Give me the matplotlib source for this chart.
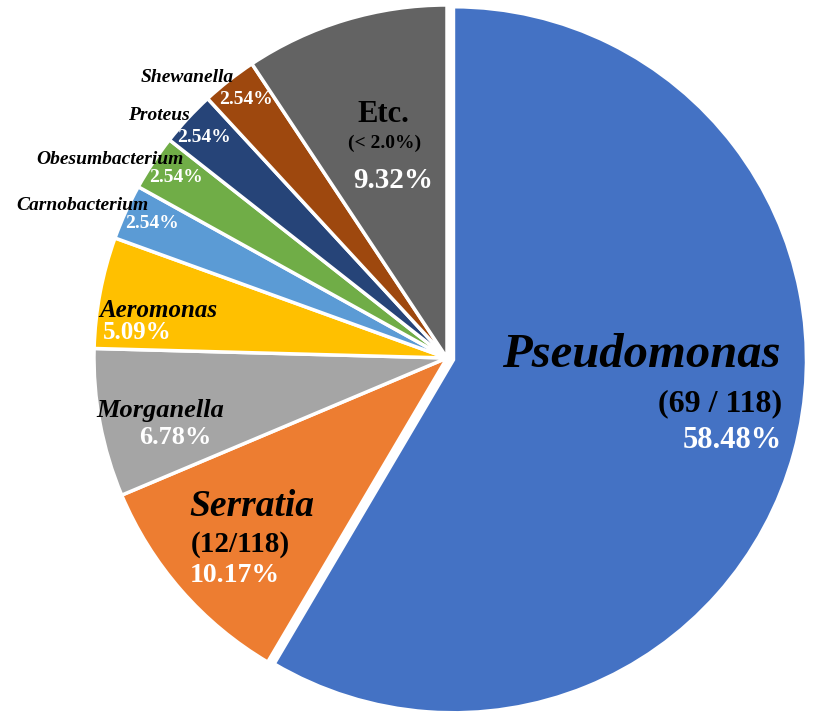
import matplotlib.pyplot as plt

# slice data, clockwise from 12 o'clock
genera = ['Pseudomonas', 'Serratia', 'Morganella', 'Aeromonas', 'Carnobacterium',
          'Obesumbacterium', 'Proteus', 'Shewanella', 'Etc.']
percents = [58.48, 10.17, 6.78, 5.09, 2.54, 2.54, 2.54, 2.54, 9.32]
counts = ['(69 / 118)', '(12/118)', '', '', '', '', '', '', '(< 2.0%)']
colors = ['#4472C4', '#ED7D31', '#A5A5A5', '#FFC000', '#5B9BD5',
          '#70AD47', '#264478', '#9E480E', '#636363']

W, H = 827, 728
cx, cy, R = 447, 358, 353   # pie centre / radius in pixels

fig = plt.figure(figsize=(W / 100, H / 100), dpi=100)
ax = fig.add_axes([0, 0, 1, 1])

explode = [0.019] + [0] * (len(percents) - 1)
ax.pie(percents, colors=colors, startangle=90, counterclock=False,
       explode=explode, radius=1,
       wedgeprops=dict(edgecolor='white', linewidth=2.5))

ax.set_xlim(-cx / R, (W - cx) / R)
ax.set_ylim(-(H - cy) / R, cy / R)
ax.set_aspect('equal')
ax.axis('off')

serif = 'Liberation Serif'


def put(x, y, s, size, color='black', italic=False, ha='center'):
    fig.text(x / W, 1 - y / H, s, fontsize=size, color=color, ha=ha, va='center',
             family=serif, weight='bold', style='italic' if italic else 'normal')


# label layout (pixels): name, count, percent
put(781, 355, genera[0], 35, italic=True, ha='right')
put(782, 404, counts[0], 23, ha='right')
put(782, 441, f'{percents[0]:.2f}%', 22, color='white', ha='right')

put(189, 507, genera[1], 27, italic=True, ha='left')
put(191, 545, counts[1], 21, ha='left')
put(190, 575, f'{percents[1]:.2f}%', 20, color='white', ha='left')

put(160, 410, genera[2], 19, italic=True)
put(175, 438, f'{percents[2]:.2f}%', 19, color='white')

put(158, 310, genera[3], 18, italic=True)
put(137, 333, f'{percents[3]:.2f}%', 18, color='white')

put(82, 206, genera[4], 14, italic=True)
put(152, 223, f'{percents[4]:.2f}%', 14, color='white')

put(110, 159, genera[5], 14, italic=True)
put(176, 178, f'{percents[5]:.2f}%', 14, color='white')

put(159, 115, genera[6], 14, italic=True)
put(204, 138, f'{percents[6]:.2f}%', 14, color='white')

put(187, 78, genera[7], 14, italic=True)
put(246, 100, f'{percents[7]:.2f}%', 14, color='white')

put(383, 115, genera[8], 22)
put(385, 143, counts[8], 14)
put(393, 181, f'{percents[8]:.2f}%', 21, color='white')

fig.savefig('out.png', dpi=100)
